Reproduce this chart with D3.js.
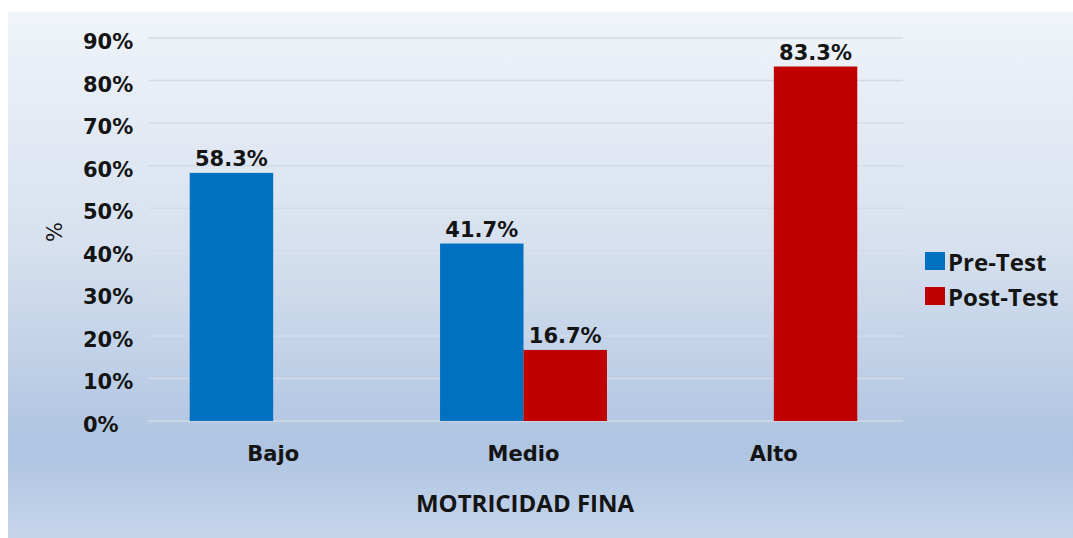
<!DOCTYPE html>
<html>
<head>
<meta charset="utf-8">
<script src="https://cdn.jsdelivr.net/npm/d3@7"></script>
<style>
    body { margin: 0; background: #ffffff; }
    svg { display: block; }
    .tickLbl, .dataLbl, .catLbl { font-family: "DejaVu Sans", Verdana, sans-serif; font-weight: bold; fill: #141414; }
    .legendLbl, .xTitle { font-family: "Open Sans", "Noto Sans", sans-serif; font-weight: 700; fill: #141414; }
</style>
</head>
<body>
<div id="chart"></div>
<script>
// chart data
const categories = ["Bajo", "Medio", "Alto"];
const seriesNames = ["Pre-Test", "Post-Test"];
const preTest = [58.3, 41.7, 0];
const postTest = [0, 16.7, 83.3];
const yTicks = [0, 10, 20, 30, 40, 50, 60, 70, 80, 90];
const colors = ["#0070c0", "#c00000"];

const W = 1073, H = 538;
const plotLeft = 148, plotRight = 899, plotTop = 38, plotBottom = 421;

function drawChart() {
    const svg = d3.select("#chart").append("svg")
        .attr("width", W)
        .attr("height", H);

    // background gradient panel
    const grad = svg.append("defs").append("linearGradient")
        .attr("id", "bg")
        .attr("x1", 0).attr("y1", 0).attr("x2", 0).attr("y2", 1);
    [[0, "#f0f4fa"], [0.45, "#d6e0ee"], [0.83, "#aec4e1"], [1, "#c5d5eb"]].forEach(s => {
        grad.append("stop").attr("offset", s[0]).attr("stop-color", s[1]);
    });
    svg.append("rect")
        .attr("x", 8).attr("y", 12)
        .attr("width", W - 8).attr("height", H - 12)
        .attr("fill", "url(#bg)");

    // scales
    const x0 = d3.scaleBand()
        .domain(categories)
        .range([plotLeft, plotRight])
        .padding(0);
    const x1 = d3.scaleBand()
        .domain(seriesNames)
        .range([0, x0.bandwidth()])
        .paddingInner(0)
        .paddingOuter(0.5);
    const y = d3.scaleLinear()
        .domain([0, 90])
        .range([plotBottom, plotTop]);

    // grid
    svg.append("g")
        .selectAll("line")
        .data(yTicks)
        .enter().append("line")
        .attr("x1", plotLeft).attr("x2", plotRight + 4)
        .attr("y1", d => y(d)).attr("y2", d => y(d))
        .attr("stroke", "#d3dbe6")
        .attr("stroke-width", 1.5);

    // y tick labels (left aligned)
    svg.append("g")
        .selectAll("text")
        .data(yTicks)
        .enter().append("text")
        .attr("class", "tickLbl")
        .attr("x", 83)
        .attr("y", d => y(d) + 11)
        .attr("font-size", 21)
        .text(d => d + "%");

    // bars
    const rows = categories.map((c, i) => ({ cat: c, vals: [preTest[i], postTest[i]] }));
    const groups = svg.append("g")
        .selectAll("g")
        .data(rows)
        .enter().append("g")
        .attr("transform", d => "translate(" + x0(d.cat) + ",0)");

    groups.selectAll("rect")
        .data(d => d.vals.map((v, j) => ({ name: seriesNames[j], v: v, j: j })).filter(e => e.v > 0))
        .enter().append("rect")
        .attr("x", d => x1(d.name))
        .attr("y", d => y(d.v))
        .attr("width", x1.bandwidth())
        .attr("height", d => y(0) - y(d.v))
        .attr("fill", d => colors[d.j]);

    groups.selectAll(".dataLbl")
        .data(d => d.vals.map((v, j) => ({ name: seriesNames[j], v: v, j: j })).filter(e => e.v > 0))
        .enter().append("text")
        .attr("class", "dataLbl")
        .attr("x", d => x1(d.name) + x1.bandwidth() / 2)
        .attr("y", d => y(d.v) - 7)
        .attr("text-anchor", "middle")
        .attr("font-size", 21)
        .text(d => d.v.toFixed(1) + "%");

    // category labels
    svg.append("g")
        .selectAll("text")
        .data(categories)
        .enter().append("text")
        .attr("class", "catLbl")
        .attr("x", d => x0(d) + x0.bandwidth() / 2)
        .attr("y", 461)
        .attr("text-anchor", "middle")
        .attr("font-size", 21)
        .text(d => d);

    // x title
    svg.append("text")
        .attr("class", "xTitle")
        .attr("x", 525)
        .attr("y", 512)
        .attr("text-anchor", "middle")
        .attr("font-size", 24)
        .text("MOTRICIDAD FINA");

    // y title
    svg.append("text")
        .attr("transform", "translate(62,232) rotate(-90)")
        .attr("text-anchor", "middle")
        .attr("font-family", "DejaVu Sans, sans-serif")
        .attr("font-size", 21)
        .attr("fill", "#141414")
        .text("%");

    // legend
    const legend = svg.append("g")
        .selectAll("g")
        .data(seriesNames)
        .enter().append("g")
        .attr("transform", (d, i) => "translate(925," + (252 + i * 35) + ")");
    legend.append("rect")
        .attr("width", 20).attr("height", 18)
        .attr("fill", (d, i) => colors[i]);
    legend.append("text")
        .attr("class", "legendLbl")
        .attr("x", 23)
        .attr("y", 19)
        .attr("font-size", 24)
        .text(d => d);
}

drawChart();
</script>
</body>
</html>
